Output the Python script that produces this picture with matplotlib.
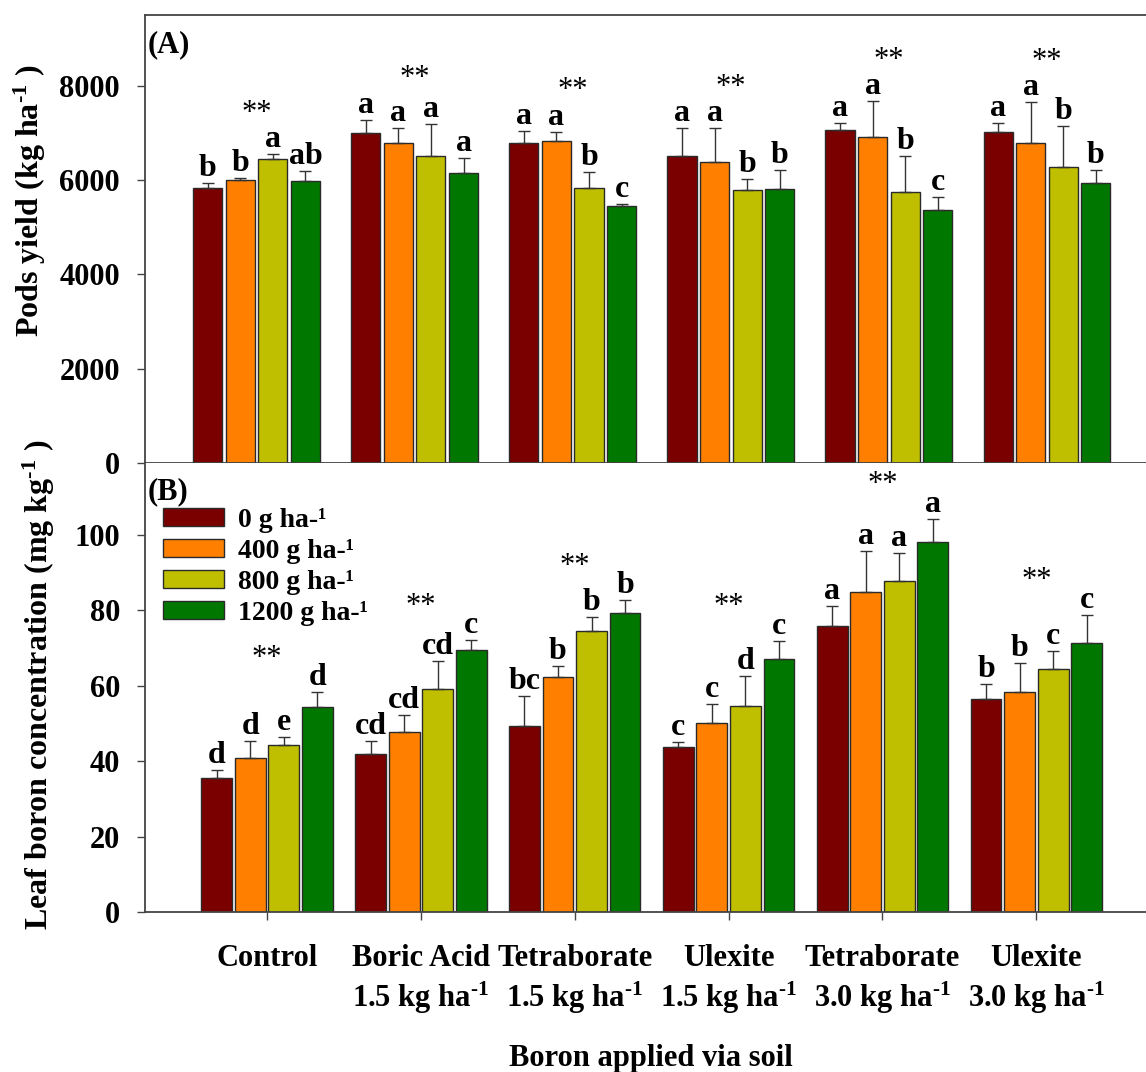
import matplotlib
matplotlib.use('Agg')
import matplotlib.pyplot as plt
import numpy as np

plt.rcParams['font.family'] = ['Liberation Serif', 'DejaVu Serif']
plt.rcParams['font.weight'] = 'bold'
plt.rcParams['mathtext.fontset'] = 'custom'
plt.rcParams['mathtext.rm'] = 'Liberation Serif:bold'
plt.rcParams['mathtext.default'] = 'regular'

categories = ['Control',
              'Boric Acid\n1.5 kg ha$^{\\text{-1}}$',
              'Tetraborate\n1.5 kg ha$^{\\text{-1}}$',
              'Ulexite\n1.5 kg ha$^{\\text{-1}}$',
              'Tetraborate\n3.0 kg ha$^{\\text{-1}}$',
              'Ulexite\n3.0 kg ha$^{\\text{-1}}$']
rates = ['0 g ha-¹', '400 g ha-¹', '800 g ha-¹', '1200 g ha-¹']
colors = ['#7a0000', '#ff8000', '#bfbf00', '#007800']

# pods yield (kg/ha), one list per B rate across the six soil treatments
yield_0 = [5830, 6995, 6785, 6515, 7065, 7010]
yield_400 = [6005, 6785, 6825, 6385, 6910, 6795]
yield_800 = [6445, 6520, 5830, 5795, 5745, 6280]
yield_1200 = [5985, 6140, 5445, 5815, 5370, 5935]
yield_se_0 = [105, 283, 245, 587, 135, 190]
yield_se_400 = [36, 323, 184, 715, 764, 855]
yield_se_800 = [105, 673, 345, 232, 755, 870]
yield_se_1200 = [197, 326, 51, 402, 281, 276]
yield_letters_0 = ['b', 'a', 'a', 'a', 'a', 'a']
yield_letters_400 = ['b', 'a', 'a', 'a', 'a', 'a']
yield_letters_800 = ['a', 'a', 'b', 'b', 'b', 'b']
yield_letters_1200 = ['ab', 'a', 'c', 'b', 'c', 'b']

# leaf boron (mg/kg)
leafb_0 = [35.5, 41.9, 49.2, 43.6, 75.9, 56.4]
leafb_400 = [40.8, 47.8, 62.2, 50.0, 84.7, 58.4]
leafb_800 = [44.3, 59.2, 74.4, 54.6, 87.8, 64.4]
leafb_1200 = [54.4, 69.5, 79.3, 67.0, 98.0, 71.4]
leafb_se_0 = [2.2, 3.5, 8.1, 1.4, 5.3, 4.0]
leafb_se_400 = [4.6, 4.3, 2.9, 5.2, 11.1, 7.5]
leafb_se_800 = [2.0, 7.2, 3.7, 8.0, 7.4, 4.9]
leafb_se_1200 = [3.8, 2.5, 3.3, 4.9, 6.2, 7.4]
leafb_letters_0 = ['d', 'cd', 'bc', 'c', 'a', 'b']
leafb_letters_400 = ['d', 'cd', 'b', 'c', 'a', 'b']
leafb_letters_800 = ['e', 'cd', 'b', 'd', 'a', 'c']
leafb_letters_1200 = ['d', 'c', 'b', 'c', 'a', 'c']

W, H = 1146, 1072
fig = plt.figure(figsize=(W / 100, H / 100), dpi=100)
ax1 = fig.add_axes([145 / W, 1 - 463 / H, 1.01 - 145 / W, (463 - 15) / H])
ax2 = fig.add_axes([145 / W, 1 - 912 / H, 1.01 - 145 / W, (912 - 463) / H])

edge = '#2a2a2a'


def panel(ax, means, ses, letters, width, step, star_pad):
    x = np.arange(len(categories))
    bars = []
    for k in range(4):
        xs = x + (k - 1.5) * step
        b = ax.bar(xs, means[k], width, color=colors[k], edgecolor=edge,
                   linewidth=1.0, label=rates[k], zorder=2)
        bars.append(b)
        ax.errorbar(xs, means[k], yerr=[np.zeros(len(x)), ses[k]], fmt='none',
                    ecolor='#333333', elinewidth=1.0, capsize=4.5,
                    capthick=1.0, zorder=3)
        for xi, m, s, t in zip(xs, means[k], ses[k], letters[k]):
            ax.annotate(t, (xi, m + s), xytext=(0, 0), textcoords='offset points',
                        ha='center', va='bottom', fontsize=23,
                        fontweight='bold', zorder=4)
    tips = np.max(np.array(means) + np.array(ses), axis=0)
    for xi, t in zip(x, tips):
        ax.annotate('**', (xi, t), xytext=(0, star_pad),
                    textcoords='offset points', ha='center', va='bottom',
                    fontsize=22, fontweight='normal')
    return bars


panel(ax1, [yield_0, yield_400, yield_800, yield_1200],
      [yield_se_0, yield_se_400, yield_se_800, yield_se_1200],
      [yield_letters_0, yield_letters_400, yield_letters_800, yield_letters_1200],
      0.184, 0.206, 19)
bars = panel(ax2, [leafb_0, leafb_400, leafb_800, leafb_1200],
             [leafb_se_0, leafb_se_400, leafb_se_800, leafb_se_1200],
             [leafb_letters_0, leafb_letters_400, leafb_letters_800, leafb_letters_1200],
             0.2, 0.218, 14)

ax1.set_xlim(-0.706, -0.706 + 1012 / 158)
ax1.set_ylim(0, 9500)
ax1.set_yticks([0, 2000, 4000, 6000, 8000])
ax1.set_xticks([])
ax1.set_ylabel('Pods yield (kg ha$^{\\text{-1}}$ )', fontsize=23, fontweight='bold')
ax1.yaxis.set_label_coords(-0.096, 0.585)
ax1.text(0.003, 0.933, '(A)', transform=ax1.transAxes, fontsize=22,
         fontweight='bold', va='center')

ax2.set_xlim(-0.793, -0.793 + 1012 / 153.8)
ax2.set_ylim(0, 119)
ax2.set_yticks([0, 20, 40, 60, 80, 100])
ax2.set_xticks(np.arange(len(categories)))
ax2.set_xticklabels(categories, linespacing=1.25)
ax2.set_ylabel('Leaf boron concentration (mg kg$^{\\text{-1}}$ )', fontsize=23,
               fontweight='bold')
ax2.yaxis.set_label_coords(-0.087, 0.505)
ax2.set_xlabel('Boron applied via soil', fontsize=22, fontweight='bold',
               labelpad=20)
ax2.text(0.003, 0.935, '(B)', transform=ax2.transAxes, fontsize=22,
         fontweight='bold', va='center')
ax2.spines['top'].set_visible(False)

for ax in (ax1, ax2):
    for s in ax.spines.values():
        s.set_color('#444444')
        s.set_linewidth(1.3)
    ax.tick_params(axis='y', direction='out', length=6, width=1,
                   labelsize=22, pad=12, colors='#444444', labelcolor='black')
ax2.tick_params(axis='x', direction='out', length=6, width=1, labelsize=22,
                pad=17, colors='#444444', labelcolor='black')

ax2.legend(handles=bars, loc='upper left', bbox_to_anchor=(0.018, 0.9),
           frameon=False, fontsize=20, handlelength=2.2, handleheight=0.62,
           handletextpad=0.5, labelspacing=0.22, borderpad=0,
           borderaxespad=0)

fig.savefig('out.png', dpi=100)
